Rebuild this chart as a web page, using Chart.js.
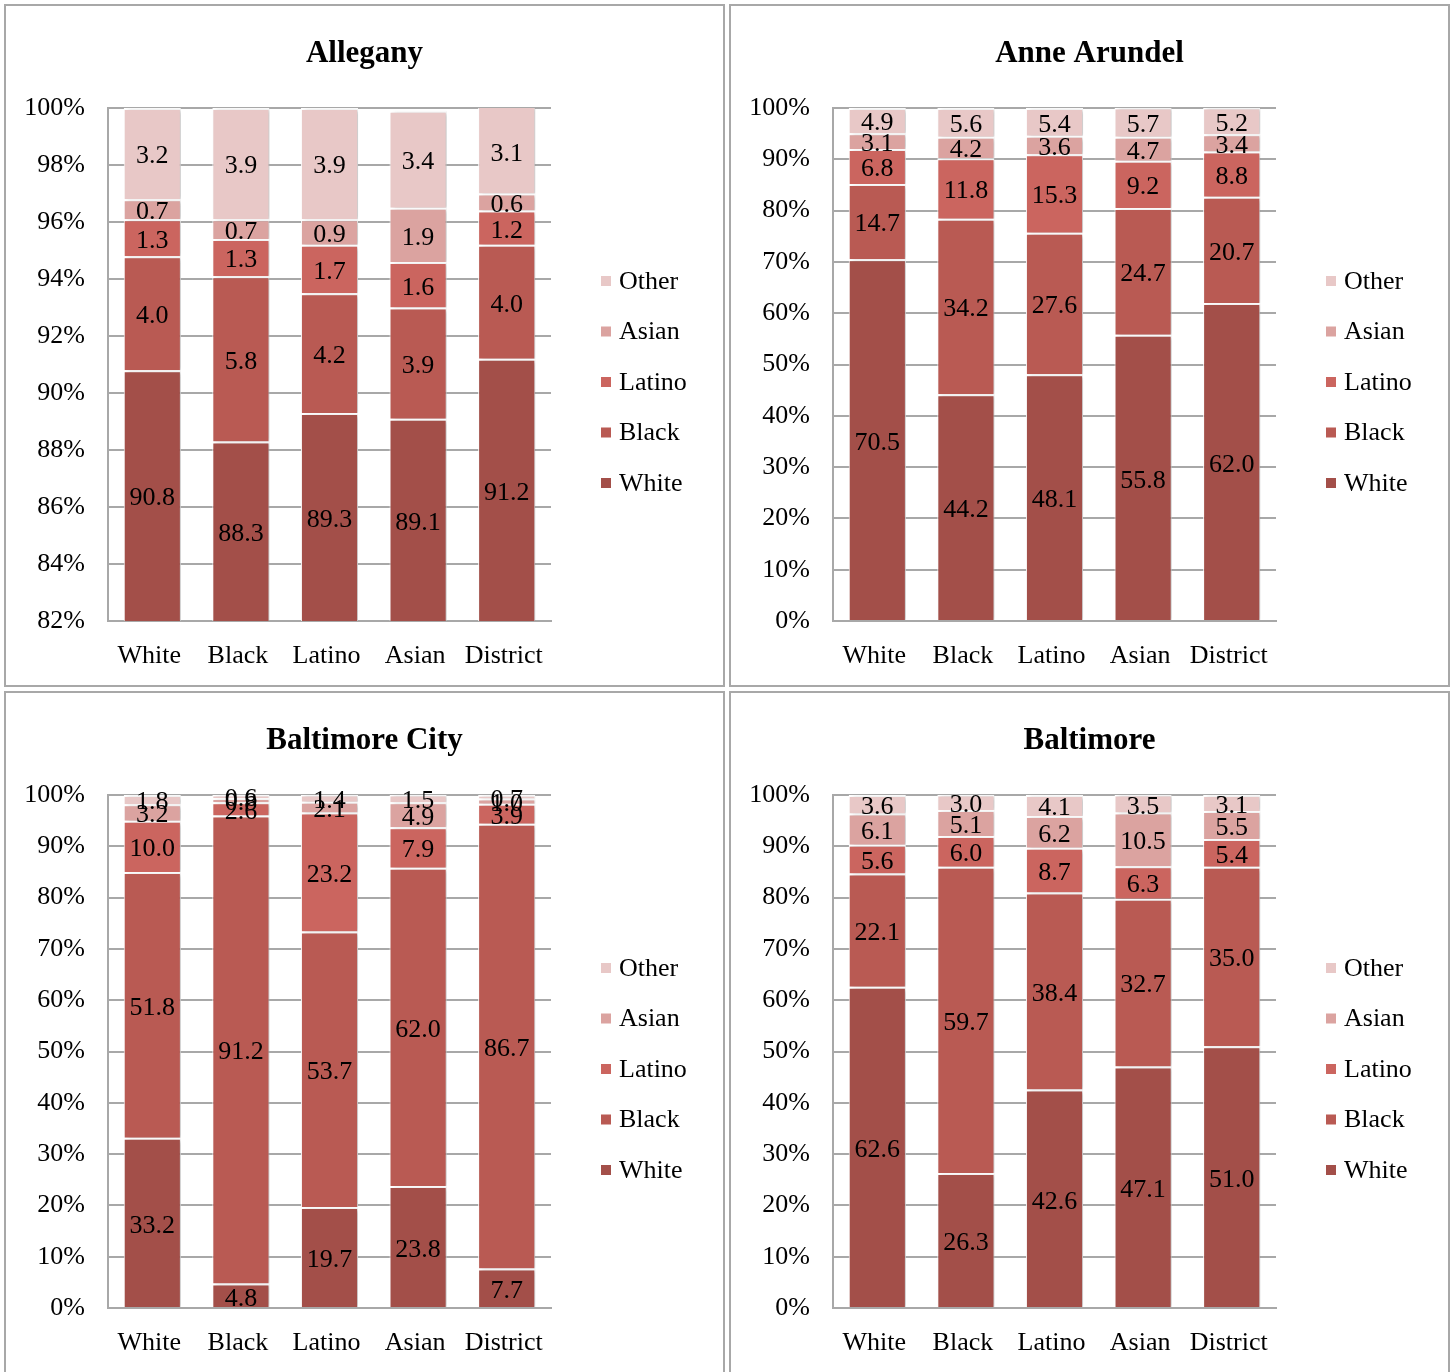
<!DOCTYPE html>
<html>
<head>
<meta charset="utf-8">
<script src="https://cdn.jsdelivr.net/npm/chart.js@4.4.1/dist/chart.umd.min.js"></script>
<style>
  html, body { margin: 0; padding: 0; background: #fff; }
  body { width: 1452px; height: 1372px; position: relative; overflow: hidden; }
  .panel { position: absolute; width: 717px; height: 679px; border: 2px solid #a8a8a8; background: #fff; }
  .panel canvas { display: block; }
</style>
</head>
<body>
<div class="panel" style="left:4px;top:4px"><canvas id="c0" width="717" height="679"></canvas></div>
<div class="panel" style="left:729px;top:4px"><canvas id="c1" width="717" height="679"></canvas></div>
<div class="panel" style="left:4px;top:691px"><canvas id="c2" width="717" height="679"></canvas></div>
<div class="panel" style="left:729px;top:691px"><canvas id="c3" width="717" height="679"></canvas></div>
<script>
// Categories along the x axis and the stacked series (bottom to top)
const categories = ['White', 'Black', 'Latino', 'Asian', 'District'];
const seriesNames = ['White', 'Black', 'Latino', 'Asian', 'Other'];
const seriesColors = ['#A34F49', '#B95A53', '#CB655F', '#DBA3A0', '#E8C8C7'];

// Allegany
const alleganyWhite  = [90.8, 88.3, 89.3, 89.1, 91.2];
const alleganyBlack  = [4.0, 5.8, 4.2, 3.9, 4.0];
const alleganyLatino = [1.3, 1.3, 1.7, 1.6, 1.2];
const alleganyAsian  = [0.7, 0.7, 0.9, 1.9, 0.6];
const alleganyOther  = [3.2, 3.9, 3.9, 3.4, 3.1];

// Anne Arundel
const anneArundelWhite  = [70.5, 44.2, 48.1, 55.8, 62.0];
const anneArundelBlack  = [14.7, 34.2, 27.6, 24.7, 20.7];
const anneArundelLatino = [6.8, 11.8, 15.3, 9.2, 8.8];
const anneArundelAsian  = [3.1, 4.2, 3.6, 4.7, 3.4];
const anneArundelOther  = [4.9, 5.6, 5.4, 5.7, 5.2];

// Baltimore City
const baltCityWhite  = [33.2, 4.8, 19.7, 23.8, 7.7];
const baltCityBlack  = [51.8, 91.2, 53.7, 62.0, 86.7];
const baltCityLatino = [10.0, 2.6, 23.2, 7.9, 3.9];
const baltCityAsian  = [3.2, 0.8, 2.1, 4.9, 1.0];
const baltCityOther  = [1.8, 0.6, 1.4, 1.5, 0.7];

// Baltimore
const baltimoreWhite  = [62.6, 26.3, 42.6, 47.1, 51.0];
const baltimoreBlack  = [22.1, 59.7, 38.4, 32.7, 35.0];
const baltimoreLatino = [5.6, 6.0, 8.7, 6.3, 5.4];
const baltimoreAsian  = [6.1, 5.1, 6.2, 10.5, 5.5];
const baltimoreOther  = [3.6, 3.0, 4.1, 3.5, 3.1];

const panels = [
  { id: 'c0', title: 'Allegany', yMin: 82, yStep: 2,
    series: [alleganyWhite, alleganyBlack, alleganyLatino, alleganyAsian, alleganyOther] },
  { id: 'c1', title: 'Anne Arundel', yMin: 0, yStep: 10,
    series: [anneArundelWhite, anneArundelBlack, anneArundelLatino, anneArundelAsian, anneArundelOther] },
  { id: 'c2', title: 'Baltimore City', yMin: 0, yStep: 10,
    series: [baltCityWhite, baltCityBlack, baltCityLatino, baltCityAsian, baltCityOther] },
  { id: 'c3', title: 'Baltimore', yMin: 0, yStep: 10,
    series: [baltimoreWhite, baltimoreBlack, baltimoreLatino, baltimoreAsian, baltimoreOther] }
];

const FONT = '"Liberation Serif", "Times New Roman", Times, serif';
const GRID = '#a8a8a8';

// Panel title centred across the whole canvas, soft bar shadows,
// value labels centred in each visible segment, and the side legend
const stackDecor = {
  id: 'stackDecor',
  beforeDatasetsDraw(chart) {
    const ctx = chart.ctx;
    ctx.save();
    ctx.shadowColor = 'rgba(0,0,0,0.22)';
    ctx.shadowBlur = 4;
    ctx.shadowOffsetX = 3;
    ctx.shadowOffsetY = 1;
  },
  afterDatasetsDraw(chart) {
    const ctx = chart.ctx;
    ctx.restore();
    const y = chart.scales.y;
    ctx.save();
    ctx.font = '26px ' + FONT;
    ctx.fillStyle = '#000';
    ctx.textAlign = 'center';
    ctx.textBaseline = 'middle';
    const n = chart.data.labels.length;
    for (let i = 0; i < n; i++) {
      let base = 0;
      chart.data.datasets.forEach((ds, d) => {
        const v = ds.data[i];
        const lo = Math.max(base, y.min);
        const hi = Math.min(base + v, y.max);
        base += v;
        if (hi <= lo) return;
        const bar = chart.getDatasetMeta(d).data[i];
        const py = (y.getPixelForValue(lo) + y.getPixelForValue(hi)) / 2;
        ctx.fillText(v.toFixed(1), bar.x, py + 3);
      });
    }
    ctx.restore();
  },
  afterDraw(chart) {
    const ctx = chart.ctx;
    const ds = chart.data.datasets;
    ctx.save();
    ctx.fillStyle = '#000';
    ctx.font = 'bold 31px ' + FONT;
    ctx.textAlign = 'center';
    ctx.textBaseline = 'middle';
    ctx.fillText(chart.options.plugins.stackDecor.title, chart.width / 2, 48);

    ctx.font = '26px ' + FONT;
    ctx.textAlign = 'left';
    for (let k = ds.length - 1, row = 0; k >= 0; k--, row++) {
      const cy = 276 + row * 50.5;
      ctx.fillStyle = ds[k].backgroundColor;
      ctx.fillRect(595, cy - 6, 10, 10);
      ctx.fillStyle = '#000';
      ctx.fillText(ds[k].label, 613, cy);
    }
    ctx.restore();
  }
};

panels.forEach(p => {
  new Chart(document.getElementById(p.id), {
    type: 'bar',
    data: {
      labels: categories,
      datasets: seriesNames.map((name, k) => ({
        label: name,
        data: p.series[k],
        backgroundColor: seriesColors[k],
        borderColor: '#ffffff',
        borderWidth: { top: 2, left: 1, right: 1, bottom: 0 },
        borderSkipped: false,
        barPercentage: 0.645,
        categoryPercentage: 1.0
      }))
    },
    options: {
      responsive: false,
      animation: false,
      devicePixelRatio: 1,
      layout: { padding: { left: 0, right: 172, top: 102, bottom: 0 } },
      plugins: {
        legend: { display: false },
        tooltip: { enabled: false },
        title: { display: false },
        stackDecor: { title: p.title }
      },
      scales: {
        x: {
          stacked: true,
          grid: { display: false },
          border: { display: true, color: GRID, width: 2 },
          ticks: { color: '#000', font: { family: FONT, size: 26 }, padding: 12, labelOffset: -3 },
          afterFit(s) { s.height = 64; }
        },
        y: {
          stacked: true,
          min: p.yMin,
          max: 100,
          ticks: {
            stepSize: p.yStep,
            color: '#000',
            font: { family: FONT, size: 26 },
            padding: 23,
            callback: v => v + '%'
          },
          grid: { color: GRID, lineWidth: 2, drawTicks: false },
          border: { display: true, color: GRID, width: 2 },
          afterFit(s) { s.width = 102; }
        }
      }
    },
    plugins: [stackDecor]
  });
});
</script>
</body>
</html>
